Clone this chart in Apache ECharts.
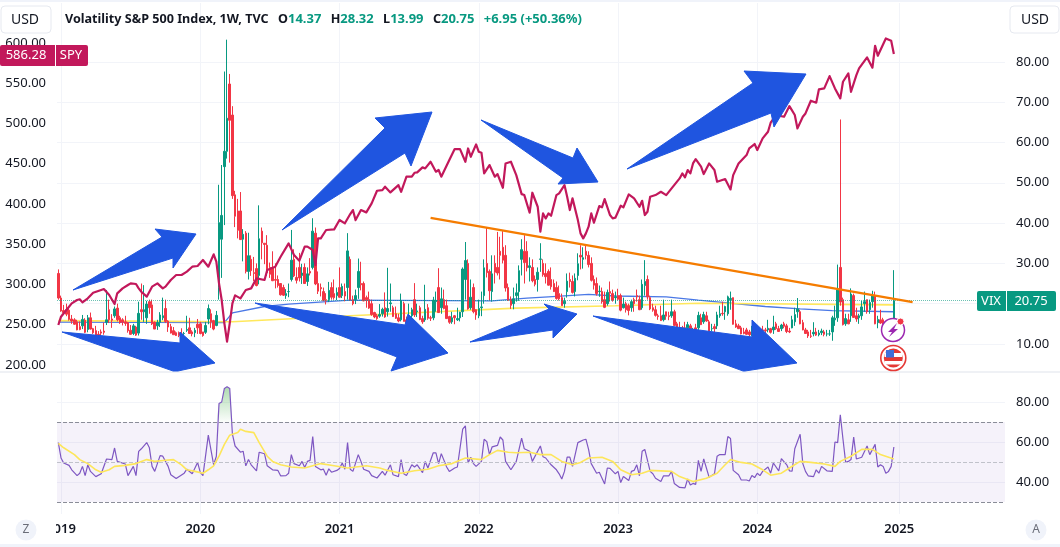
<!DOCTYPE html>
<html><head><meta charset="utf-8">
<style>html,body{margin:0;padding:0;background:#fff}#c{width:1060px;height:547px}</style>
<script src="https://cdn.jsdelivr.net/npm/echarts@6/dist/echarts.min.js"></script>
</head><body><div id="c"></div>
<script>
const yearLabels=['2019','2020','2021','2022','2023','2024','2025'];
const yearWeeks=[1,53,105,157,209,261,314];
const spyTicks=[200,250,300,350,400,450,500,550,600];
const vixTicks=[10,20,30,40,50,60,70,80];
const rsiTicks=[40,60,80];
// weekly VIX candles: [open, close, low, high]
const vix2019=[[27.5,21.4,21,28.5],[21.4,18.2,18,22],[18.3,17.8,17.3,19.7],[18.5,17.4,16.9,20],[18.4,16.1,15.8,19.1],[16.2,15.7,15,17.2],[16,14.9,14.8,16.4],[15.5,13.5,13.4,16],[14.3,13.6,13.4,15.6],[14.5,16.1,13.7,17.2],[15.9,12.9,12.7,16.4],[13.6,16.5,12.9,17.2],[16.5,13.7,13.6,17.8],[13.8,12.8,12.5,14],[13.3,12,11.9,14.5],[12.4,12.1,11.9,13.2],[13,12.7,11.9,13.6],[13.2,12.9,12.3,15.3],[15.4,16,14.7,23.4],[18.5,16,15.2,21],[16.2,15.9,14,17.4],[17,18.7,16.5,19.3],[18.9,16,15.6,20],[16.5,15.3,15,17],[16,15.4,14.6,16.4],[15.5,15.1,14.5,17],[15.3,13.3,12.8,15.5],[13.4,12.4,12.3,14.7],[12.6,14.5,12.2,15],[14.2,12.2,12,14.5],[12.7,17.6,12.1,20.5],[18.5,18,16,25],[18,18.5,15.5,24.6],[16.5,19.9,15,20.7],[20.5,19,17.5,21],[19.7,15,14.7,21],[15.4,13.7,13.7,15.6],[14.5,15.3,13.5,16],[15.4,17.2,14.2,17.9],[16.5,17,15.9,21.5],[18.8,15.6,15.2,21],[15.7,14.2,13,15.9],[14.3,12.7,12.6,15],[13.3,12.3,12.3,14.2],[12.8,12.1,12,13.1],[12.8,12.1,11.7,13.1],[12.5,12.3,12,13.9],[12.6,12.6,11.4,13],[13.4,13.6,13,17],[14,12.6,12.5,16.5],[13,12.5,11.9,13.4],[12.8,13.4,11.7,14],[14.9,14,12.5,16.2]];
const vix2020=[[15,12.6,12.4,15.5],[13,12.1,11.8,13],[12.9,14.6,12.5,15.5],[16.2,18.8,14.9,19.8],[17.5,15.5,14,18.6],[15.8,13.7,13.4,16],[14.6,17.1,14.4,18.2],[24,40.1,21,49.5],[36,41.9,26.4,54.4],[54,57.8,39.5,77.6],[57.8,66,56,85.5],[74.5,65.5,55,77],[66.8,46.8,46,69],[47,41.7,39,48],[43,38.2,36.2,46],[43,35.9,35.8,47.7],[36,37.2,30.5,38.5],[37.5,28,27.5,38],[28,31.9,26,37.6],[31,28.2,26.9,32],[27.7,27.5,25.6,31.6],[28.7,24.5,24.3,30],[27,36.1,24.8,44.4],[38,35.1,31,38.9],[35,34.7,29.8,35],[34.5,27.7,26.9,37],[29,27.3,26.4,30.2],[29,25.7,25.6,33],[26,25.8,23.8,30],[26,24.5,24,27],[25,22.2,22,25],[24,22.1,21.9,24.7],[22,22.5,21.2,23.6],[23,23,21.6,25],[26,30.8,25.5,38.3],[31,26.9,26.6,33.5],[26.5,25.8,25,29],[29,26.4,25.5,32.6],[27,27.6,24.9,29.9],[29,25,25,30],[25.5,27.4,24.4,29],[28,27.6,27,31.3],[29,38,28.5,41.2],[37.5,24.9,24.6,38.9],[25,23.1,22.4,28],[24,23.7,21.8,25],[23,20.8,20.6,24],[21,20.8,19.8,22.6],[21,23.3,20.4,25.4],[24,21.6,21,25.3],[22.5,21.5,21,26],[22,22.8,20.9,24]];
const vix2021=[[24,21.6,21.5,29],[22,24.3,21.4,25],[23,21.9,20.6,25],[24,33.1,21,37.5],[31,20.9,20.7,31.7],[21,20,19.6,22],[21,22,19.9,23.5],[24,28,21.2,31.2],[25,24.7,23.3,30.4],[25,20.7,20.6,25.5],[21.5,21,19,22],[21,18.9,18.7,23],[20,17.3,17,21],[17.8,16.7,16.4,18],[17,16.3,16,17.5],[16.9,17.3,16.5,19.9],[17.5,18.6,16.8,19],[19,16.7,16.5,22.8],[18,18.8,16.8,28.9],[20,20.2,18,25],[19,16.8,16.7,19.5],[17.5,16.4,16.2,19.3],[16.5,15.7,15.4,17.5],[16,20.7,15.6,22.5],[20,15.6,15.6,20.5],[16,15.1,14.8,16.8],[16,16.2,15.4,20],[17,18.5,15.8,19],[21,17.2,16.7,25.1],[18,18.2,16.7,20],[19,16.1,15.9,19.5],[16.3,15.5,15,17],[16,18.6,15.5,24.7],[19,16.4,16,19.9],[16.5,16.4,15.7,17],[16.5,20.9,15.9,21.7],[20.5,20.8,18,23],[24,17.8,17.7,28.8],[19,21.2,17.5,24],[21,18.8,18.6,23.5],[19.5,16.3,16.2,21],[16.8,15.4,15,17],[15.5,16.5,15,18],[17,16.5,14.9,17.2],[16,16.3,15.7,19],[16.5,17.9,15.6,18],[18,28.6,16.7,29],[26,30.7,21,35.3],[30,18.7,18.5,31],[19,21.6,18.5,26],[24,18,17.6,25],[18.5,17.2,16,18.6]];
const vix2022=[[17,18.8,16.4,21],[19,19.2,16.9,23],[22,28.9,20,31],[30,27.7,26.5,38.9],[28,23.2,20.8,28.5],[23,27.4,20.5,32],[30,27.8,25,32],[29,27.6,27,37.8],[33,32,26,36.6],[34,30.8,30,38],[32,23.9,23,34.5],[24,20.8,20.7,25],[21,19.6,18.7,21.8],[20,21.2,18.6,24],[22,22.7,20.5,25],[23,28.2,20.7,29.5],[31,33.4,27,36],[33,30.2,25,37],[33,28.9,28,35.5],[29,29.4,25.5,31.5],[29,25.7,25.3,31],[26,24.8,24.3,27],[26,27.8,23,29],[31,31.1,27.9,35],[30,27.2,26.7,31],[27.5,26.7,25,30],[28,24.6,24.5,28.5],[26,24.2,23.5,29],[25,23,22.9,26],[24,21.3,21,25.5],[22.5,21.2,20.8,24.5],[21.5,19.5,19.5,22.5],[20,20.6,19,21.5],[23,25.6,21.5,27.5],[26,25.5,24,27.7],[25.5,22.8,22.5,27],[23,26.3,21.8,27.5],[27,29.9,25.8,32.5],[32,31.6,28.5,34.5],[31,31.4,28.7,34],[33,32,31,34.5],[32,29.7,29,33],[30,25.8,25.5,31.5],[26,24.6,23.5,27],[25,22.5,22,26.5],[23,23.1,21.7,24.5],[23,20.5,20,24],[21,19.1,18.9,23],[20,22.8,19.5,23.5],[23,22.6,20.5,25.5],[22.5,20.9,20.5,23.5],[21.5,21.7,20,23]];
const vix2023=[[22,21.1,20.8,23.7],[22,18.4,18.1,22.5],[19,19.9,18.8,21.5],[20,18.5,17.8,20.5],[19.5,18.3,17.1,20],[19,20.5,18,21],[21,20,18,21.5],[22,21.7,20.5,23.5],[21,18.5,18.4,22],[19,24.8,18.5,26],[24.5,25.5,22,30.8],[26,21.7,21,27],[21.5,18.7,18.4,22],[19,18.4,18,20],[18.5,17.1,16.8,19.5],[17,16.8,16,17.5],[17,15.8,15.7,19.5],[16,17.2,15.6,21],[18,16.9,16,18],[17,16.8,15.9,18],[17,18,16.5,21],[18,14.6,14.5,18.5],[15,13.8,13.6,15.5],[14,13.5,13.5,15.5],[14,13.4,12.7,14.5],[14,13.6,13.4,15.5],[14,14.8,13.5,15.5],[14.5,13.3,13,15],[13.5,13.6,12.9,14],[14,13.3,13,15],[14,17.1,13.5,18],[16.5,14.8,14.7,17.5],[15.5,17.3,15,18],[17,15.7,15.5,18],[15.5,13.1,13,16],[13.8,13.8,13.2,15],[14.3,13.8,12.9,15],[14.5,17.2,13.7,18],[17,17.5,16.5,19.5],[17.6,17.5,17,20.5],[18,19.3,16,19.5],[17.5,21.7,17,22],[21,21.3,18.5,23],[21.5,14.9,14.8,21.5],[15,14.2,14,16],[14.5,13.8,13.7,15],[14,12.5,12.4,14.5],[13,12.6,12.4,14],[13.5,12.4,12.3,14],[13,12.3,11.8,13.5],[12.5,13,11.9,14.5],[13,12.4,11.8,13.5]];
const vix2024=[[13.5,13.4,12.8,14.5],[13.5,12.7,12.4,13.8],[13.5,13.3,12.9,14.5],[13.5,13.3,12.7,14],[13.5,13.9,12.9,16],[13.8,12.9,12.6,14],[13.5,14.2,12.5,17],[15,13.8,13.5,15.5],[13.8,13.1,13,14.5],[13.8,14.7,13.2,15],[15,14.4,13.9,15.5],[14.5,13.1,12.7,15],[13.2,13,12.7,14],[14,16,13.9,17],[15.5,17.3,14.5,19],[18,18.7,16.5,21.4],[18,15,14.9,18.5],[15.3,13.5,13.4,16],[13.5,12.6,12.5,14],[13,12,11.5,13.5],[12,11.9,11.5,13.5],[12.5,12.9,11.9,15.4],[13,12.2,12,14],[12.3,12.7,11.9,13.5],[12.8,13.2,12.2,13.8],[13,12.4,11.9,13.5],[12.5,12.5,11.9,13.5],[12.5,12.5,12,13.5],[13,16.5,10.8,17],[16,16.4,14.5,19.5],[16.5,23.4,15.5,29.7],[29,20.4,19.5,65.7],[21,14.8,14.6,21.5],[15,16.3,14.5,17.5],[16,15,14.9,17.5],[17,22.4,15.5,23.8],[22,16.6,16.5,22.5],[17,16.2,15.5,19],[16.5,17,15,17.5],[17,19.2,16,20.7],[20,20.5,18,23],[21,18,17.5,21],[18.5,20.3,17.5,21],[20.5,21.9,19,23.2],[22,15,14.9,23],[15.3,16.1,13.9,17],[16,15.2,15,18.5],[16,13.5,13.4,16.5],[13.9,12.8,12.7,14],[13.3,13.8,12.8,14.9],[13.9,14.2,13.5,15],[14.37,20.75,13.99,28.32]];
const spyWeeks=[0,1,3,5,7,8,9,11,13,16,17,19,21,22,24,26,27,29,30,31,33,35,37,39,40,42,44,46,48,50,52,54,56,58,59,60,61,62,63,64,65,66,68,70,72,74,77,78,81,83,86,88,90,92,93,95,96,97,98,100,103,105,107,109,110,111,113,115,117,119,121,122,124,127,128,130,132,133,134,136,137,139,141,142,143,146,148,150,152,153,154,156,157,158,159,161,163,164,166,167,169,171,173,174,176,177,179,180,181,182,183,184,186,187,189,190,191,192,194,195,196,197,198,199,200,202,203,204,206,207,208,210,211,213,215,217,218,219,220,221,223,225,227,229,232,233,234,235,236,237,238,240,241,243,245,246,249,251,252,254,257,258,260,261,263,265,266,268,271,273,275,276,278,279,281,283,284,286,288,290,292,293,295,296,298,299,302,304,305,306,309,311,312];
const spyValues=[249.7,260,268.3,276.6,280.7,281.6,277.8,282.8,289.8,293.2,294.4,287,275.8,289,295.2,299.4,301.4,300.6,295.2,291,284.9,297.3,301.4,295.2,297.3,305.6,311.8,311.8,316,322.1,323,330.4,322.1,337.5,328.4,301.4,280.7,251.8,229,251.8,276.6,286.5,282.8,293.2,295.2,307.6,305.6,318,322.1,334.5,351.1,336.6,329.6,347,347,342.8,324.2,357.3,357.3,367.7,368.5,380.1,376,387.5,392.5,380,392.5,389.6,400.8,416.5,417.3,421.5,414.4,423.5,415.2,433.9,433.9,438.8,439.3,445.5,444.2,452.5,440.1,442.2,433.9,454.6,468.2,468.2,452.5,469,458.7,474,464.9,463.7,438,448.4,433.9,437.2,420.2,450.4,452.5,435.9,412.3,411.1,389.2,414,396.6,365.6,388.3,382.1,388.3,385.4,411.1,413.2,423.5,409,392.5,407,380,363.5,357.3,363.5,371.8,388.3,376.7,397.4,395.8,406.1,386.3,382.1,383,397.9,395.8,411.9,407,396.6,404,386.3,390.4,409,411.1,415.2,411.1,419.4,431.8,438,433,442.2,438,450.4,455.8,446.3,437.2,450.4,442.2,427.7,431,418.1,435.9,450.4,460.8,469,474.5,467,481.5,489.8,501,510.5,508.4,521.6,510.5,493.9,508.4,512.5,528.3,525.8,542.3,543.6,558.9,543.6,531.2,551.9,562.2,539.4,560.2,568.4,582.1,569.3,596.6,584.2,605.7,602.8,586.28];
const rsiWeeks=[0,1,2,4,5,7,8,9,10,11,12,14,16,18,20,21,22,25,26,28,29,30,31,33,34,35,36,38,39,41,42,44,47,48,50,52,53,54,56,58,59,60,61,62,63,64,65,66,68,69,70,71,72,74,75,77,78,80,82,83,85,86,87,88,90,91,92,93,94,95,96,98,99,100,101,102,104,105,106,107,108,109,110,112,113,114,116,117,119,121,122,124,125,127,128,129,130,132,133,134,136,137,138,140,141,142,143,145,146,148,149,151,152,153,154,155,156,158,159,160,161,162,164,165,166,167,169,171,173,174,176,177,180,181,182,184,186,187,188,189,190,191,192,194,196,197,198,199,201,202,204,205,206,208,209,210,211,213,214,215,216,217,218,219,221,222,223,225,226,228,229,230,232,234,235,236,237,238,239,240,241,243,245,246,247,249,250,251,252,254,255,257,258,259,260,261,262,263,265,266,267,269,270,272,273,274,275,277,278,279,280,282,283,284,285,287,289,290,291,292,293,294,295,296,297,298,300,302,303,305,306,307,308,309,310,311,312];
const rsiValues=[59.7,52,49.5,48.3,46.1,43.2,44.4,47.8,43.2,48.6,45.3,42.7,44.1,51.5,51.2,57,50.3,49,43.2,47.8,43.2,55.3,56.6,59.7,57.1,47.8,45.3,53.2,52.9,47.8,43.6,41.7,44.4,46.4,44.1,49.8,44.8,43.2,63.4,48.6,52.9,79.2,80,86.8,87.6,86.8,63.9,58,54.9,55.4,48.1,51.2,48.6,45.6,54.9,54.1,48.1,46.1,45.8,43.1,43.2,44.4,53.7,49.2,48.1,50.3,47.3,50.3,50.8,62.7,47.8,46.1,46.4,43.4,46.6,44.9,45.8,46.8,49.5,46.4,59.7,46.4,45.3,53.7,50.3,46.4,45.3,43.2,42,45.3,43.4,48.6,43.6,42.7,51.2,44.1,43.2,48.6,47.5,48.6,44.7,50.3,47,54.6,54.6,49.2,54.2,47.5,45.3,47,47.5,66.4,68.1,49.5,52.4,49.2,47.8,50.3,61.4,60.2,53.7,57.6,58.3,62.5,61,50.3,46.1,50.3,61.9,56.6,55.4,50.3,58,52.6,52,48.6,46.1,44.1,41.5,45.3,52.4,52.4,47.8,59.7,61,61.4,56.3,49.2,44.4,44.9,39,47,46.8,44.1,45.3,39.7,42.7,40.7,45.3,45.8,48.6,43.1,55.4,56.3,45.3,44.1,41.9,40.2,43.1,43.1,45.3,39.3,37.3,37.1,41.5,38.5,39.3,38.8,50.8,45.3,51.5,42.4,44.1,52.9,53.7,53.7,62.7,61.7,45.8,43.6,41,41,40.5,43.2,42.2,44.4,43.2,45.3,47.5,44.4,49.5,45.6,51.7,48.6,45.6,45.4,56.6,63.9,49.2,45.3,43.1,42.7,46.1,44.4,47.8,45.6,45.3,60,59.7,73.6,61.4,49.8,50.3,51.2,62.5,51.5,52.4,58,53.7,58.8,47.5,48.6,47.8,44.4,45.3,47.8,57.5];
const rsiMaWeeks=[0,2,6,8,11,14,16,19,21,25,29,33,36,40,43,46,48,51,54,56,58,60,62,64,67,68,70,73,75,78,80,83,87,92,95,98,103,108,115,120,123,128,133,138,142,147,152,158,161,164,168,171,176,180,184,188,192,195,198,203,207,210,214,218,221,229,232,237,242,246,249,251,255,259,263,266,270,273,277,281,286,290,292,296,300,304,307,312];
const rsiMaValues=[59.3,57.1,53.7,51.2,49.2,46.1,44.9,46.1,47.8,48.3,49.2,51.2,50.3,50.9,51.2,48.6,46.1,45.3,44.4,46.1,48.1,52.9,58.8,63.4,64.7,66.4,65.3,64.7,59.7,52.9,50.3,48.6,47.5,47,48.1,49.2,48.1,47,48.1,47,45.8,44.4,45.6,46.4,48.1,49.2,52,51.2,53.7,55.8,54.9,54.6,54.9,53.7,53.7,50.3,48.6,49.8,52,52.4,50.3,46.1,43.6,44.4,45.8,45.3,42.7,40.2,41.9,44.4,48.6,51.2,49.8,49,46.1,43.4,44.4,47,50.3,49.8,49,47.8,50.3,52.9,56.3,56.3,53.7,51.5];
const blueWeeks=[0,62,65,77,86,109,162,175,183,198,208,227,239,264,277,289,312];
const blueValues=[15.46,15.3,17.7,19.3,19.9,20.9,20.7,21.4,21.7,22.3,21.9,21.7,20.9,19.3,18.7,18.3,18];
const yellowWeeks=[0,65,109,171,208,239,312];
const yellowValues=[15.8,15.5,17,18.9,19.5,20.1,19.7];
const trendWeeks=[139,319];
const trendValues=[41.3,20.4];
const lastVix=20.75;

const pairs=(a,b)=>a.map((w,i)=>[w,b[i]]);
const candles=[...vix2019,...vix2020,...vix2021,...vix2022,...vix2023,...vix2024];
const categories=Array.from({length:354},(_,i)=>{const k=yearWeeks.indexOf(i);return k>=0?yearLabels[k]:'';});
const isYear=(i)=>yearWeeks.indexOf(i)>=0;
const FF='"Noto Sans",sans-serif';
const grid='#f2f4f9';
const TXT='#131722',UP='#089981',DN='#F23645',SPYC='#C2185B';
const rsiPeak=pairs(rsiWeeks,rsiValues).filter(p=>p[0]>=59&&p[0]<=65).map(p=>[p[0],Math.max(p[1],70)]);

const poly=(pts,z)=>({type:'polygon',z:z||40,shape:{points:pts},style:{fill:'#1F55E0',stroke:'#1F55E0',lineWidth:1,lineJoin:'round'}});
const lbl=(x,y,t,c,s)=>({type:'text',z:75,x:x,y:y,style:{text:t,fill:c,font:(s||14)+'px '+FF,textAlign:'center',textVerticalAlign:'middle'}});
const box=(x,y,w,h,f,st)=>({type:'rect',z:60,shape:{x:x,y:y,width:w,height:h,r:st?4:2},style:{fill:f,stroke:st||null,lineWidth:1}});

const annotations=[
 {type:'rect',z:1,shape:{x:0,y:0,width:1060,height:2},style:{fill:'#f0f3fa'}},
 {type:'rect',z:1,shape:{x:0,y:544,width:1060,height:3},style:{fill:'#f0f3fa'}},
 {type:'rect',z:30,shape:{x:0,y:371.5,width:1060,height:1},style:{fill:'#e0e3eb'}},
 {type:'rect',z:45,shape:{x:0,y:516,width:56,height:26},style:{fill:'#fff'}},
 poly([[73,290],[162,237],[155,229],[196,234],[173,268],[173,258]]),
 poly([[62,332],[180,343],[180,332],[215,363],[178,371],[173,371]]),
 poly([[282,230],[385,128],[375,118],[432,112],[411,166],[405,153]]),
 poly([[481,120],[573,158],[577,148],[598,182],[558,184],[563,178]]),
 poly([[627,169],[753,83],[744,71],[806,74],[774,127],[771,113]]),
 poly([[255,303],[405,325],[408,314],[448,353],[391,371],[397,357]]),
 poly([[470,342],[549,309],[544,304],[577,314],[553,338],[553,330]]),
 poly([[593,316],[752,337],[752,320],[797,363],[745,371],[743,371]]),
 box(1,6,50,27,'#fff','#e6e9f0'),lbl(25,20,'USD',TXT,14),
 box(1010,6,49,27,'#fff','#e6e9f0'),lbl(1035,20,'USD',TXT,14),
 box(0,45,88,21,SPYC),lbl(26,55.5,'586.28','#fff',13),lbl(71,55.5,'SPY','#fff',13),
 {type:'rect',z:61,shape:{x:55,y:45,width:1,height:21},style:{fill:'#fff'}},
 box(977,291,79,20,UP),lbl(991,301,'VIX','#fff',13),lbl(1031,301,'20.75','#fff',13),
 {type:'rect',z:61,shape:{x:1006,y:291,width:1,height:20},style:{fill:'#fff'}},
 {type:'circle',z:70,shape:{cx:26,cy:530,r:10.5},style:{fill:'#f0f3fa'}},lbl(26,530,'Z','#6a6d78',12),
 {type:'circle',z:70,shape:{cx:1036,cy:530,r:10.5},style:{fill:'#f0f3fa'}},lbl(1036,530,'A','#6a6d78',12),
 {type:'circle',z:50,shape:{cx:893,cy:330,r:11.5},style:{fill:'#fff',stroke:'#9C27B0',lineWidth:1.5}},
 {type:'polygon',z:51,shape:{points:[[897,323],[888,332],[892,332],[889,337],[898,329],[894,329]]},style:{fill:'#9C27B0'}},
 {type:'circle',z:52,shape:{cx:900.5,cy:321.5,r:3.5},style:{fill:'#F23645',stroke:'#fff',lineWidth:1}},
 {type:'circle',z:50,shape:{cx:893.3,cy:358,r:12.5},style:{fill:'#fff',stroke:'#E53935',lineWidth:1.6}},
 {type:'circle',z:51,shape:{cx:893.3,cy:358,r:9.5},style:{fill:'#E53935'}},
 {type:'rect',z:52,shape:{x:884.5,y:353,width:17.5,height:4},style:{fill:'#fff'}},
 {type:'rect',z:52,shape:{x:884.5,y:361,width:17.5,height:3.5},style:{fill:'#fff'}},
 {type:'rect',z:53,shape:{x:886,y:350,width:8,height:7.5},style:{fill:'#3F6FD8'}}
];

const option={
 animation:false,backgroundColor:'#fff',textStyle:{fontFamily:FF},
 title:{left:65,top:10,padding:0,
  text:'{d|Volatility S&P 500 Index, 1W, TVC}  {d|O}{g|14.37}  {d|H}{g|28.32}  {d|L}{g|13.99}  {d|C}{g|20.75}  {g|+6.95 (+50.36%)}',
  textStyle:{rich:{d:{color:TXT,fontSize:12.6,fontFamily:FF},g:{color:UP,fontSize:13,fontFamily:FF}}}},
 grid:[{left:57,right:55,top:3,height:369},{left:57,right:55,top:372,height:142}],
 xAxis:[
  {type:'category',gridIndex:0,data:categories,boundaryGap:true,axisLine:{show:false},axisTick:{show:false},axisLabel:{show:false},
   splitLine:{show:true,alignWithLabel:true,interval:(i)=>isYear(i),lineStyle:{color:grid}}},
  {type:'category',gridIndex:1,data:categories,boundaryGap:true,axisLine:{show:false},axisTick:{show:false},
   axisLabel:{show:true,interval:(i)=>isYear(i),color:TXT,fontSize:13,fontWeight:600,margin:9,fontFamily:FF},
   splitLine:{show:true,alignWithLabel:true,interval:(i)=>isYear(i),lineStyle:{color:grid}}}
 ],
 yAxis:[
  {type:'value',gridIndex:0,position:'left',min:191.3,max:649.7,axisLine:{show:false},axisTick:{show:false},splitLine:{show:false},
   axisLabel:{customValues:spyTicks,formatter:v=>v.toFixed(2),color:TXT,fontSize:13,margin:11,padding:[3,0,0,0],fontFamily:FF}},
  {type:'value',gridIndex:0,position:'right',min:3.05,max:94.6,axisLine:{show:false},axisTick:{show:false,customValues:vixTicks},
   splitLine:{show:true,lineStyle:{color:grid}},
   axisLabel:{customValues:vixTicks,formatter:v=>v.toFixed(2),color:TXT,fontSize:13,margin:11,fontFamily:FF}},
  {type:'value',gridIndex:1,position:'right',min:24,max:95,axisLine:{show:false},axisTick:{show:false,customValues:rsiTicks},
   splitLine:{show:true,lineStyle:{color:grid}},
   axisLabel:{customValues:rsiTicks,formatter:v=>v.toFixed(2),color:TXT,fontSize:13,margin:11,padding:[2,0,0,0],fontFamily:FF}}
 ],
 series:[
  {type:'line',xAxisIndex:0,yAxisIndex:1,data:pairs(blueWeeks,blueValues),showSymbol:false,z:3,lineStyle:{color:'#4A78E6',width:1.3},silent:true},
  {type:'line',xAxisIndex:0,yAxisIndex:1,data:pairs(yellowWeeks,yellowValues),showSymbol:false,z:3,lineStyle:{color:'#FFE85C',width:1.6},silent:true},
  {type:'candlestick',xAxisIndex:0,yAxisIndex:1,data:candles,barWidth:2,z:4,
   itemStyle:{color:UP,color0:DN,borderColor:UP,borderColor0:DN,borderWidth:1},
   markLine:{silent:true,symbol:'none',label:{show:false},lineStyle:{color:UP,type:'dotted',width:1,opacity:.6},data:[{yAxis:lastVix}]}},
  {type:'line',xAxisIndex:0,yAxisIndex:1,data:pairs(trendWeeks,trendValues),showSymbol:false,z:6,lineStyle:{color:'#F57C00',width:2.4}},
  {type:'line',xAxisIndex:0,yAxisIndex:0,data:pairs(spyWeeks,spyValues),showSymbol:false,z:7,lineStyle:{color:SPYC,width:2.2,join:'round'}},
  {type:'line',xAxisIndex:1,yAxisIndex:2,data:rsiPeak,showSymbol:false,z:2,lineStyle:{opacity:0},
   areaStyle:{origin:70,color:{type:'linear',x:0,y:0,x2:0,y2:1,colorStops:[{offset:0,color:'rgba(76,175,80,.65)'},{offset:1,color:'rgba(76,175,80,.03)'}]}}},
  {type:'line',xAxisIndex:1,yAxisIndex:2,data:pairs(rsiWeeks,rsiValues),showSymbol:false,z:4,lineStyle:{color:'#7E57C2',width:1.2},
   markArea:{silent:true,itemStyle:{color:'rgba(126,87,194,.08)'},data:[[{yAxis:70},{yAxis:30}]]},
   markLine:{silent:true,symbol:'none',label:{show:false},data:[
    {yAxis:70,lineStyle:{color:'#8a8d98',type:'dashed',width:1}},
    {yAxis:50,lineStyle:{color:'#c0c2ca',type:'dashed',width:1}},
    {yAxis:30,lineStyle:{color:'#8a8d98',type:'dashed',width:1}}]}},
  {type:'line',xAxisIndex:1,yAxisIndex:2,data:pairs(rsiMaWeeks,rsiMaValues),showSymbol:false,z:5,lineStyle:{color:'#FDE65A',width:1.6}}
 ],
 graphic:annotations
};
echarts.init(document.getElementById('c'),null,{renderer:'canvas'}).setOption(option);
</script></body></html>
